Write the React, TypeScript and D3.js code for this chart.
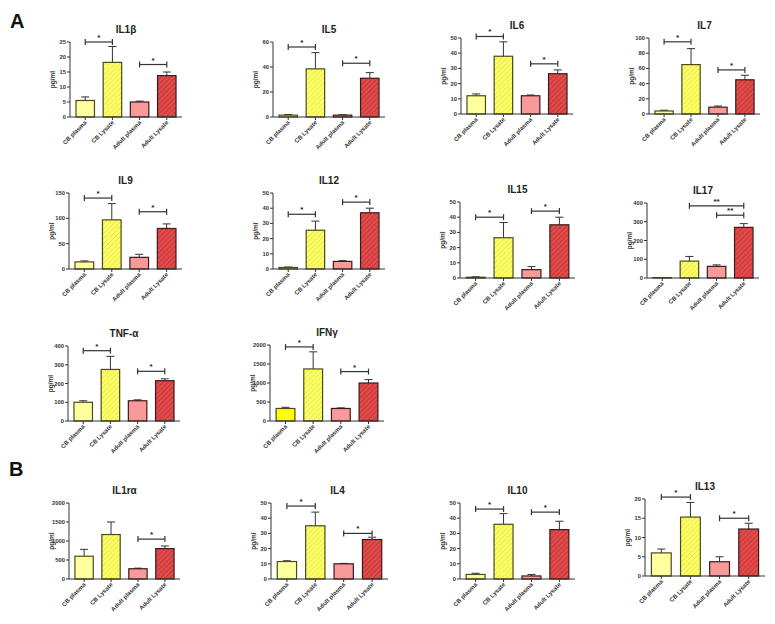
import React from 'react';
import * as d3 from 'd3';

const categories = ['CB plasma', 'CB Lysate', 'Adult plasma', 'Adult Lysate'];
const cytokines = ['IL1β', 'IL5', 'IL6', 'IL7', 'IL9', 'IL12', 'IL15', 'IL17', 'TNF-α', 'IFNγ', 'IL1rα', 'IL4', 'IL10', 'IL13'];

const il1bMean = [5.5, 18.2, 5.0, 13.8];
const il1bErr = [1.2, 5.3, 0.3, 1.2];
const il5Mean = [1.5, 38.5, 1.5, 31];
const il5Err = [0.5, 13, 0.3, 4.5];
const il6Mean = [12, 38, 12, 26.5];
const il6Err = [1.2, 9.5, 0.5, 2.5];
const il7Mean = [4, 65, 9, 45];
const il7Err = [1, 21, 1.5, 6];
const il9Mean = [14, 97, 23, 80];
const il9Err = [2, 32, 6, 9];
const il12Mean = [1, 25.5, 5, 37];
const il12Err = [0.3, 6, 0.5, 3];
const il15Mean = [0.5, 26.5, 5.5, 35];
const il15Err = [0.3, 10, 2, 5];
const il17Mean = [2, 90, 62, 270];
const il17Err = [1, 25, 8, 20];
const tnfMean = [100, 275, 108, 215];
const tnfErr = [8, 70, 5, 10];
const ifngMean = [330, 1370, 330, 1000];
const ifngErr = [30, 450, 15, 90];
const il1raMean = [600, 1170, 270, 800];
const il1raErr = [180, 330, 15, 70];
const il4Mean = [11.5, 35, 10, 26];
const il4Err = [0.5, 9, 0.3, 1.5];
const il10Mean = [3, 36, 2, 32.5];
const il10Err = [0.8, 7, 1, 5.5];
const il13Mean = [6, 15.3, 3.7, 12.2];
const il13Err = [1, 3.8, 1.3, 1.5];

const yMax = [25, 60, 50, 100, 150, 50, 50, 400, 400, 2000, 2000, 50, 50, 20];
const yStep = [5, 20, 10, 20, 50, 10, 10, 100, 100, 500, 500, 10, 10, 5];

// significance brackets: [fromIndex, toIndex, value, label]
const il1bSig = [[0, 1, 25, '*'], [2, 3, 17.5, '*']];
const il5Sig = [[0, 1, 56, '*'], [2, 3, 43, '*']];
const il6Sig = [[0, 1, 51, '*'], [2, 3, 33, '*']];
const il7Sig = [[0, 1, 95, '*'], [2, 3, 58, '*']];
const il9Sig = [[0, 1, 140, '*'], [2, 3, 113, '*']];
const il12Sig = [[0, 1, 36, '*'], [2, 3, 44, '*']];
const il15Sig = [[0, 1, 40, '*'], [2, 3, 44, '*']];
const il17Sig = [[1, 3, 385, '**'], [2, 3, 335, '**']];
const tnfSig = [[0, 1, 375, '*'], [2, 3, 265, '*']];
const ifngSig = [[0, 1, 1950, '*'], [2, 3, 1300, '*']];
const il1raSig = [[2, 3, 1050, '*']];
const il4Sig = [[0, 1, 48, '*'], [2, 3, 30, '*']];
const il10Sig = [[0, 1, 46, '*'], [2, 3, 44, '*']];
const il13Sig = [[0, 1, 20.5, '*'], [2, 3, 15, '*']];

const means = [il1bMean, il5Mean, il6Mean, il7Mean, il9Mean, il12Mean, il15Mean, il17Mean, tnfMean, ifngMean, il1raMean, il4Mean, il10Mean, il13Mean];
const errs = [il1bErr, il5Err, il6Err, il7Err, il9Err, il12Err, il15Err, il17Err, tnfErr, ifngErr, il1raErr, il4Err, il10Err, il13Err];
const sigs = [il1bSig, il5Sig, il6Sig, il7Sig, il9Sig, il12Sig, il15Sig, il17Sig, tnfSig, ifngSig, il1raSig, il4Sig, il10Sig, il13Sig];

// layout boxes: [left, right, top, bottom]
const boxes = [
  [70, 182, 42, 117], [273, 385, 42, 117], [461, 573, 38, 114], [649, 760, 38, 114],
  [69, 182, 193, 269], [273, 385, 193, 269], [460, 575, 202, 278], [647, 759, 203, 278],
  [68, 180, 346, 421], [270, 384, 345, 421],
  [69, 180, 503, 579], [271, 388, 503, 579], [460, 575, 503, 579], [645, 765, 499, 576],
];

const fills = ['#ffff9e', 'url(#hatchY)', '#f99a9a', 'url(#hatchR)'];
const FONT = 'Liberation Sans, Arial, sans-serif';

function Panel({ idx }: { idx: number }) {
  const [l, r, t, b] = boxes[idx];
  const x = d3.scaleBand<string>().domain(categories).range([l, r]).paddingInner(0.32).paddingOuter(0.22);
  const y = d3.scaleLinear().domain([0, yMax[idx]]).range([b, t]);
  const ticks = d3.range(0, yMax[idx] + 1e-9, yStep[idx]);
  const bw = x.bandwidth();
  const m = means[idx];
  const e = errs[idx];
  const fillFor = (i: number) => (idx === 9 && i === 0 ? '#ffff00' : fills[i]);
  return (
    <g fontFamily={FONT}>
      <text x={(l + r) / 2 + (idx === 11 ? 8 : 0)} y={t - 9} textAnchor="middle" fontSize={10} fontWeight="bold" fill="#222">{cytokines[idx]}</text>
      {categories.map((c, i) => {
        const cx = (x(c) as number) + bw / 2;
        return (
          <g key={'e' + i} stroke="#333" strokeWidth={1}>
            <line x1={cx} x2={cx} y1={y(m[i])} y2={y(m[i] + e[i])} />
            <line x1={cx - 4} x2={cx + 4} y1={y(m[i] + e[i])} y2={y(m[i] + e[i])} />
          </g>
        );
      })}
      {categories.map((c, i) => (
        <rect key={'b' + i} x={x(c)} y={y(m[i])} width={bw} height={b - y(m[i])} fill={fillFor(i)} stroke={i < 2 ? '#4a4a1a' : '#3a1a1a'} strokeWidth={1.2} />
      ))}
      <line x1={l} x2={l} y1={t} y2={b} stroke="#333" strokeWidth={1} />
      <line x1={l} x2={r} y1={b} y2={b} stroke="#333" strokeWidth={1} />
      {ticks.map((v) => (
        <g key={'t' + v}>
          <line x1={l - 3} x2={l} y1={y(v)} y2={y(v)} stroke="#333" strokeWidth={1} />
          <text x={l - 4} y={y(v) + 2} textAnchor="end" fontSize={5.8} fontWeight="bold" fill="#333">{v}</text>
        </g>
      ))}
      <text transform={`translate(${l - 15},${(t + b) / 2}) rotate(-90)`} textAnchor="middle" fontSize={6.5} fontWeight="bold" fill="#333">pg/ml</text>
      {categories.map((c, i) => {
        const cx = (x(c) as number) + bw / 2;
        return (
          <g key={'x' + i}>
            <line x1={cx} x2={cx} y1={b} y2={b + 3} stroke="#333" strokeWidth={1} />
            <text transform={`translate(${cx + 2},${b + 6}) rotate(-45)`} textAnchor="end" fontSize={6} fontWeight="bold" fill="#333">{c}</text>
          </g>
        );
      })}
      {sigs[idx].map((s, k) => {
        const [a, bb, v, lab] = s as [number, number, number, string];
        const x1 = (x(categories[a]) as number) + bw / 2;
        const x2 = (x(categories[bb]) as number) + bw / 2;
        const yy = y(v);
        return (
          <g key={'s' + k}>
            <g stroke="#333" strokeWidth={1.2}>
              <line x1={x1} x2={x2} y1={yy} y2={yy} />
              <line x1={x1} x2={x1} y1={yy - 3} y2={yy + 3} />
              <line x1={x2} x2={x2} y1={yy - 3} y2={yy + 3} />
            </g>
            <text x={(x1 + x2) / 2} y={yy - 2} textAnchor="middle" fontSize={8} fontWeight="bold" fill="#222">{lab}</text>
          </g>
        );
      })}
    </g>
  );
}

export default function App() {
  return (
    <svg width={775} height={624} style={{ position: 'absolute', left: 0, top: 0, background: '#fff' }}>
      <defs>
        <pattern id="hatchY" patternUnits="userSpaceOnUse" width={3.5} height={3.5} patternTransform="rotate(45)">
          <rect width={3.5} height={3.5} fill="#ffff66" />
          <line x1={0} y1={0} x2={0} y2={3.5} stroke="#d0d040" strokeWidth={1} />
        </pattern>
        <pattern id="hatchR" patternUnits="userSpaceOnUse" width={3.5} height={3.5} patternTransform="rotate(45)">
          <rect width={3.5} height={3.5} fill="#e04a4a" />
          <line x1={0} y1={0} x2={0} y2={3.5} stroke="#b02828" strokeWidth={1} />
        </pattern>
      </defs>
      <rect width={775} height={624} fill="#fff" />
      <text x={10} y={28} fontFamily={FONT} fontWeight="bold" fontSize={20} fill="#111">A</text>
      <text x={9} y={476} fontFamily={FONT} fontWeight="bold" fontSize={20} fill="#111">B</text>
      {cytokines.map((_, i) => <Panel key={i} idx={i} />)}
    </svg>
  );
}
